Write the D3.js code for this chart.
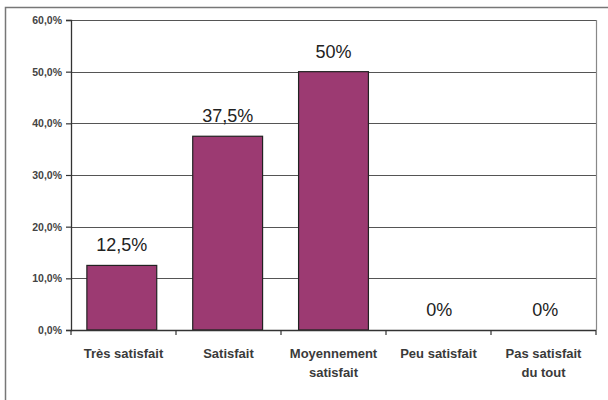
<!DOCTYPE html>
<html>
<head>
<meta charset="utf-8">
<script src="https://cdn.jsdelivr.net/npm/d3@7"></script>
<style>
  html, body { margin: 0; padding: 0; background: #fff; }
  svg { display: block; }
</style>
</head>
<body>
<svg id="chart" width="608" height="400"></svg>
<script>
// Satisfaction survey: share of respondents per answer
const categories = [
  ["Très satisfait"],
  ["Satisfait"],
  ["Moyennement", "satisfait"],
  ["Peu satisfait"],
  ["Pas satisfait", "du tout"]
];
const values = [12.5, 37.5, 50, 0, 0];
const valueLabels = ["12,5%", "37,5%", "50%", "0%", "0%"];
const yTicks = [0, 10, 20, 30, 40, 50, 60];
const yTickLabels = ["0,0%", "10,0%", "20,0%", "30,0%", "40,0%", "50,0%", "60,0%"];

const svg = d3.select("#chart");
const m = { left: 71, right: 596, top: 20, bottom: 330 };

// outer frame
svg.append("rect")
  .attr("x", 5.5).attr("y", 7.5)
  .attr("width", 620).attr("height", 420)
  .attr("fill", "none").attr("stroke", "#777").attr("stroke-width", 1.5);

const x = d3.scaleBand()
  .domain(d3.range(categories.length))
  .range([m.left, m.right])
  .paddingInner(0.34)
  .paddingOuter(0.15);

const y = d3.scaleLinear().domain([0, 60]).range([m.bottom, m.top]);

// horizontal gridlines
svg.append("g")
  .selectAll("line")
  .data(yTicks.filter(d => d > 0))
  .join("line")
  .attr("x1", m.left).attr("x2", m.right)
  .attr("y1", d => Math.round(y(d)) + 0.5).attr("y2", d => Math.round(y(d)) + 0.5)
  .attr("stroke", "#555").attr("stroke-width", 1.2);

// right border of plot area
svg.append("line")
  .attr("x1", m.right + 0.5).attr("x2", m.right + 0.5)
  .attr("y1", m.top).attr("y2", m.bottom)
  .attr("stroke", "#888").attr("stroke-width", 1.2);

// bars
svg.append("g")
  .selectAll("rect")
  .data(values)
  .join("rect")
  .attr("x", (d, i) => x(i))
  .attr("width", x.bandwidth())
  .attr("y", d => y(d))
  .attr("height", d => y(0) - y(d))
  .attr("fill", "#9c3a72")
  .attr("stroke", "#222")
  .attr("stroke-width", 1.2);

// value labels
svg.append("g")
  .selectAll("text")
  .data(values)
  .join("text")
  .attr("x", (d, i) => x(i) + x.bandwidth() / 2)
  .attr("y", d => y(d) - 14)
  .attr("text-anchor", "middle")
  .attr("font-family", "Liberation Sans, Arial, sans-serif")
  .attr("font-size", 18)
  .attr("fill", "#222")
  .text((d, i) => valueLabels[i]);

// y axis
const yAxis = d3.axisLeft(y)
  .tickValues(yTicks)
  .tickFormat((d, i) => yTickLabels[i])
  .tickSize(5)
  .tickPadding(4);
const gy = svg.append("g")
  .attr("transform", `translate(${m.left},0)`)
  .call(yAxis);
gy.select(".domain").attr("stroke", "#333").attr("stroke-width", 1.3);
gy.selectAll(".tick line").attr("stroke", "#333").attr("stroke-width", 1.2);
gy.selectAll(".tick text")
  .attr("font-family", "Liberation Sans, Arial, sans-serif")
  .attr("font-size", 10.5)
  .attr("font-weight", "bold")
  .attr("fill", "#444");

// x axis: ticks between categories
const bounds = d3.range(categories.length + 1).map(i => m.left + i * (m.right - m.left) / categories.length);
svg.append("line")
  .attr("x1", m.left).attr("x2", m.right)
  .attr("y1", m.bottom + 0.5).attr("y2", m.bottom + 0.5)
  .attr("stroke", "#333").attr("stroke-width", 1.3);
svg.append("g")
  .selectAll("line")
  .data(bounds)
  .join("line")
  .attr("x1", d => d).attr("x2", d => d)
  .attr("y1", m.bottom).attr("y2", m.bottom + 5)
  .attr("stroke", "#333").attr("stroke-width", 1.2);

// category labels
const catCenter = i => (bounds[i] + bounds[i + 1]) / 2;
const cat = svg.append("g")
  .selectAll("text")
  .data(categories)
  .join("text")
  .attr("x", (d, i) => catCenter(i))
  .attr("y", 358)
  .attr("text-anchor", "middle")
  .attr("font-family", "Liberation Sans, Arial, sans-serif")
  .attr("font-size", 13)
  .attr("font-weight", "bold")
  .attr("fill", "#3a3a3a");
cat.selectAll("tspan")
  .data(d => d)
  .join("tspan")
  .attr("x", function () { return this.parentNode.getAttribute("x"); })
  .attr("dy", (d, i) => i === 0 ? 0 : 19)
  .text(d => d);
</script>
</body>
</html>
